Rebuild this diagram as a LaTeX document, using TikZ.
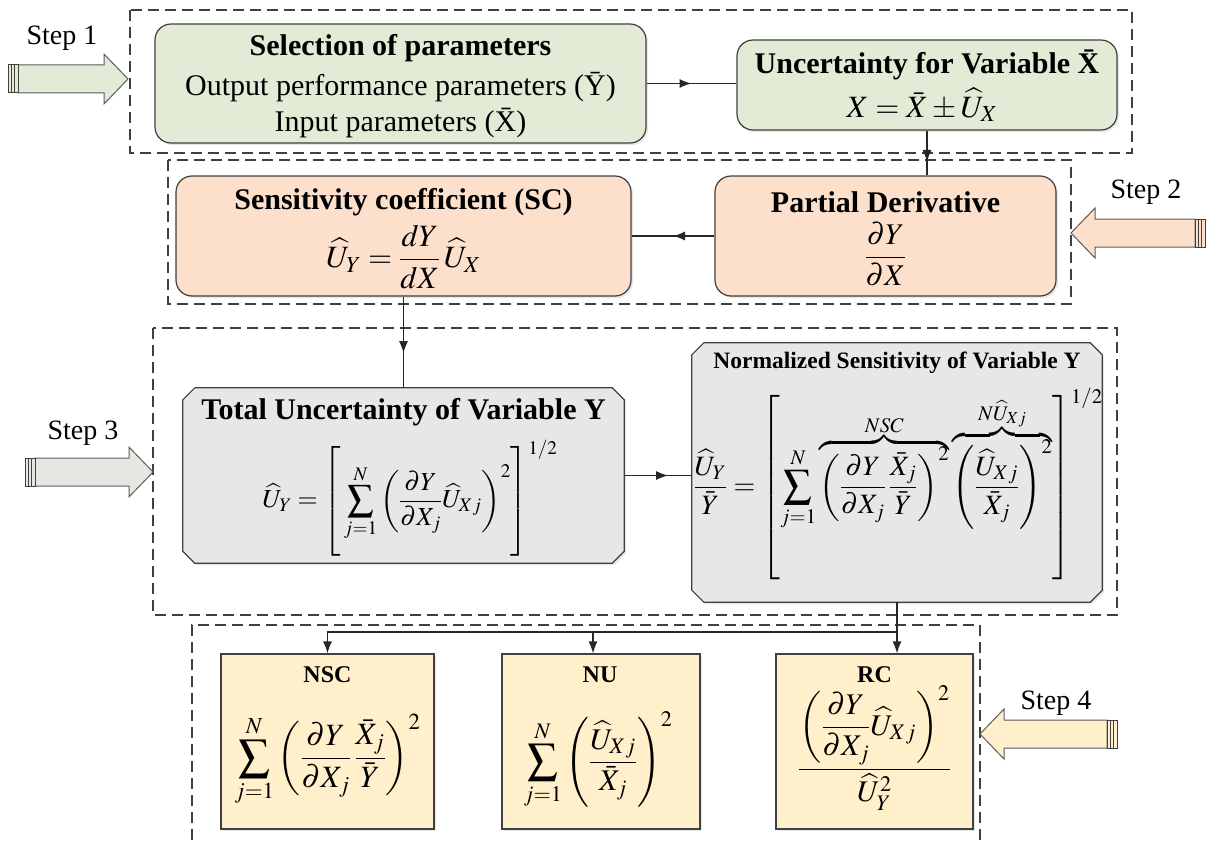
\documentclass[tikz,border=0pt]{standalone}
\usepackage{amsmath}
\usepackage{mathptmx}
\usepackage[no-math]{fontspec}
\setmainfont{Liberation Serif}
\usetikzlibrary{arrows.meta,decorations.markings,shadows}
\definecolor{grn}{HTML}{E2EBD5}
\definecolor{pch}{HTML}{FCE0CC}
\definecolor{gry}{HTML}{E7E7E7}
\definecolor{ylw}{HTML}{FFEFCB}
\definecolor{edg}{HTML}{404040}
\definecolor{sthree}{HTML}{E4E8E0}
\newcommand{\blockarrow}[5]{%
\begin{scope}[shift={(#1,#2)},xscale=#4]
\draw[draw=edg!85,line width=1pt,fill=#5] (10,-14) -- ({#3-24},-14) -- ({#3-24},-25) -- (#3,0) -- ({#3-24},25) -- ({#3-24},14) -- (10,14) -- cycle;
\draw[draw=edg,line width=1pt,fill=#5] (0,-14) rectangle (10,14);
\draw[draw=edg,line width=0.8pt] (3.3,-14) -- (3.3,14) (6.7,-14) -- (6.7,14);
\end{scope}}
\newcommand{\chamferbox}[1]{%
\draw[draw=edg,line width=1.2pt,fill=gry,drop shadow={shadow xshift=2pt,shadow yshift=-2pt,opacity=0.2}]
 ([xshift=12pt]#1.north west) -- ([xshift=-12pt]#1.north east) -- ([yshift=-12pt]#1.north east)
 -- ([yshift=12pt]#1.south east) -- ([xshift=-12pt]#1.south east) -- ([xshift=12pt]#1.south west)
 -- ([yshift=12pt]#1.south west) -- ([yshift=-12pt]#1.north west) -- cycle;}
\tikzset{
  frame/.style={draw=edg, line width=2pt, dash pattern=on 11pt off 6pt},
  shd/.style={drop shadow={shadow xshift=2pt,shadow yshift=-2pt,opacity=0.2}},
  rbox/.style={rectangle, rounded corners=16pt, draw=edg, line width=1.2pt, inner sep=0pt, shd},
  cbox/.style={rectangle, draw=none, inner sep=0pt},
  sbox/.style={rectangle, draw=edg, line width=1.2pt, fill=ylw, inner sep=0pt, shd},
  ttl/.style={font=\fontsize{30}{36}\selectfont\bfseries, inner sep=0pt},
  txt/.style={font=\fontsize{30}{36}\selectfont, inner sep=0pt},
  mth/.style={font=\fontsize{30}{36}\selectfont, inner sep=0pt},
  steplbl/.style={font=\fontsize{28}{32}\selectfont, inner sep=0pt},
  conn/.style={draw=black!85, line width=1.3pt},
  >={Latex[length=12pt,width=9pt]},
  marr/.style={postaction={decorate}, decoration={markings, mark=at position #1 with {\arrow{Latex[length=12pt,width=9pt]}}}},
}
\begin{document}
\begin{tikzpicture}[x=1pt,y=-1pt]
\useasboundingbox (0,0) rectangle (1206,840);
% frames
\draw[frame] (130,10) rectangle (1132,153);
\draw[frame] (168,160) rectangle (1071,304);
\draw[frame] (153,328) rectangle (1117,615);
\draw[frame] (192,840) -- (192,625) -- (980,625) -- (980,840);
% step arrows
\blockarrow{8}{79}{120}{1}{grn}
\blockarrow{1205}{233}{134}{-1}{pch}
\blockarrow{25}{472}{128}{1}{sthree}
\blockarrow{1117}{734}{137}{-1}{ylw}
\node[steplbl] (s1) at (62,38) {Step 1};
\node[steplbl] (s2) at (1146,192) {Step 2};
\node[steplbl] (s3) at (83,433) {Step 3};
\node[steplbl] (s4) at (1056,703) {Step 4};
% step 1
\node[rbox, fill=grn, minimum width=491pt, minimum height=119pt] (sel) at (400.5,83.5) {};
\node[ttl] (selT) at (400.5,48) {Selection of parameters};
\node[txt] (selA) at (400.5,87) {Output performance parameters (\={Y})};
\node[txt] (selB) at (400.5,123) {Input parameters (\={X})};
\node[rbox, fill=grn, minimum width=380pt, minimum height=90pt] (unc) at (927,85) {};
\node[ttl] (uncT) at (927,65) {Uncertainty for Variable \={X}};
\node[mth, font=\fontsize{31}{36}\selectfont] (uncF) at (922,105) {$X=\bar{X}\pm\widehat{U}_X$};
% step 2
\node[rbox, fill=pch, minimum width=455pt, minimum height=120pt] (sc) at (403.5,236) {};
\node[ttl] (scT) at (403.5,202) {Sensitivity coefficient (SC)};
\node[mth, font=\fontsize{31}{36}\selectfont] (scF) at (403.5,257) {$\widehat{U}_Y=\dfrac{dY}{dX}\,\widehat{U}_X$};
\node[rbox, fill=pch, minimum width=341pt, minimum height=120pt] (pd) at (885.5,236) {};
\node[ttl] (pdT) at (885.5,202) {Partial Derivative};
\node[mth] (pdF) at (885.5,254) {$\dfrac{\partial Y}{\partial X}$};
% step 3
\node[cbox, minimum width=441pt, minimum height=175pt] (tot) at (403.5,475.5) {};
\chamferbox{tot}
\node[ttl] (totT) at (403.5,412) {Total Uncertainty of Variable Y};
\node[mth, font=\fontsize{26}{30}\selectfont] (totF) at (410,498) {$\displaystyle\widehat{U}_Y=\left[\rule[-1.85em]{0pt}{4.2em}\sum_{j=1}^{N}\left(\frac{\partial Y}{\partial X_j}\widehat{U}_{Xj}\right)^{2}\right]^{1/2}$};
\node[cbox, minimum width=410pt, minimum height=259pt] (nrm) at (897,472.5) {};
\chamferbox{nrm}
\node[ttl, font=\fontsize{23.5}{28}\selectfont\bfseries] (nrmT) at (897,363) {Normalized Sensitivity of Variable Y};
\node[mth, font=\fontsize{28}{32}\selectfont] (nrmF) at (898,484) {$\displaystyle\frac{\widehat{U}_Y}{\bar{Y}}=\left[\sum_{j=1}^{N}\overbrace{\left(\frac{\partial Y}{\partial X_j}\,\frac{\bar{X}_j}{\bar{Y}}\right)^{2}}^{NSC}\overbrace{\left(\frac{\widehat{U}_{Xj}}{\bar{X}_j}\right)^{2}}^{N\widehat{U}_{Xj}}\right]^{1/2}$};
% step 4
\node[sbox, minimum width=213pt, minimum height=175pt] (nsc) at (327.5,741.5) {};
\node[ttl, font=\fontsize{24}{28}\selectfont\bfseries] (nscT) at (327.5,675) {NSC};
\node[mth, font=\fontsize{31}{36}\selectfont] (nscF) at (327.5,760) {$\displaystyle\sum_{j=1}^{N}\left(\frac{\partial Y}{\partial X_j}\,\frac{\bar{X}_j}{\bar{Y}}\right)^{2}$};
\node[sbox, minimum width=198pt, minimum height=175pt] (nu) at (601,741.5) {};
\node[ttl, font=\fontsize{24}{28}\selectfont\bfseries] (nuT) at (600,675) {NU};
\node[mth] (nuF) at (598,760) {$\displaystyle\sum_{j=1}^{N}\left(\frac{\widehat{U}_{Xj}}{\bar{X}_j}\right)^{2}$};
\node[sbox, minimum width=197pt, minimum height=175pt] (rc) at (874.5,741.5) {};
\node[ttl, font=\fontsize{24}{28}\selectfont\bfseries] (rcT) at (874.5,675) {RC};
\node[mth] (rcF) at (874.5,748) {$\dfrac{\left(\dfrac{\partial Y}{\partial X_j}\widehat{U}_{Xj}\right)^{2}}{\widehat{U}_Y^{2}}$};
% connectors
\draw[conn, marr=0.5] (sel.east) -- (sel.east -| unc.west);
\draw[conn, marr=0.7] (unc.south) -- (unc.south |- pd.north);
\draw[conn, marr=0.5] (pd.west) -- (sc.east);
\draw[conn, marr=0.62] (sc.south) -- (tot.north);
\draw[conn, marr=0.65] (tot.east) -- (tot.east -| nrm.west);
\coordinate (br) at (897,632);
\draw[conn, ->] (nrm.south) -- (nrm.south |- rc.north);
\draw[conn, ->] (br) -| (nsc.north);
\draw[conn, ->] ([xshift=-8pt]nu.north |- br) -- ([xshift=-8pt]nu.north);
\end{tikzpicture}
\end{document}
